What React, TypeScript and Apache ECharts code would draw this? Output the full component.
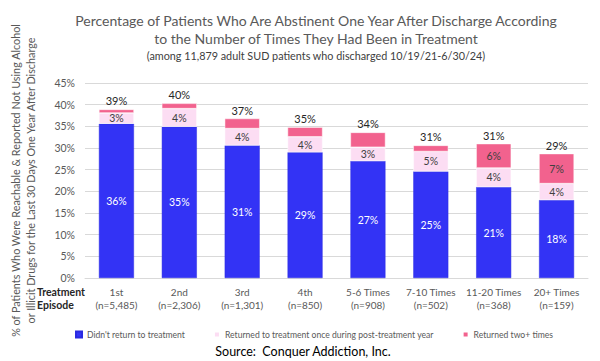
import React, { useEffect, useRef } from "react";
import * as echarts from "echarts";

const categories = ["1st", "2nd", "3rd", "4th", "5-6 Times", "7-10 Times", "11-20 Times", "20+ Times"];
const sampleSizes = ["n=5,485", "n=2,306", "n=1,301", "n=850", "n=908", "n=502", "n=368", "n=159"];
const didntReturn = [35.6, 34.9, 30.6, 29.0, 27.0, 24.6, 21.0, 18.0];
const returnedOnce = [2.5, 4.2, 3.9, 3.6, 3.2, 4.6, 4.4, 3.8];
const returnedTwoPlus = [0.8, 1.2, 2.3, 2.2, 3.4, 1.4, 5.6, 6.9];
const yTicks = [0, 5, 10, 15, 20, 25, 30, 35, 40, 45];

const seriesNames = [
  "Didn't return to treatment",
  "Returned to treatment once during post-treatment year",
  "Returned two+ times",
];

const FONT = "Lato";

export default function App() {
  const ref = useRef<HTMLDivElement>(null);
  useEffect(() => {
    document.body.style.margin = "0";
    if (!ref.current) return;
    const chart = echarts.init(ref.current, undefined, { renderer: "svg" });
    const totals = didntReturn.map((v, i) => v + returnedOnce[i] + returnedTwoPlus[i]);
    const barW = 35;
    chart.setOption({
      animation: false,
      textStyle: { fontFamily: FONT },
      title: {
        text: "Percentage of Patients Who Are Abstinent One Year After Discharge According\nto the Number of Times They Had Been in Treatment",
        subtext: "(among 11,879 adult SUD patients who discharged 10/19/21-6/30/24)",
        left: 311,
        textAlign: "center",
        top: 6,
        itemGap: 3,
        textStyle: { fontFamily: FONT, fontSize: 14, fontWeight: "normal", color: "#595959", lineHeight: 18 },
        subtextStyle: { fontFamily: FONT, fontSize: 10.8, color: "#404040" },
      },
      legend: {
        data: seriesNames,
        top: 325,
        left: 70,
        icon: "rect",
        itemWidth: 6,
        itemHeight: 6,
        itemGap: 28,
        textStyle: { fontFamily: FONT, fontSize: 8.6, color: "#595959" },
      },
      grid: { left: 67, right: 12, top: 83, bottom: 83 },
      xAxis: {
        type: "category",
        data: categories,
        axisLine: { lineStyle: { color: "#D9D9D9" } },
        axisTick: { show: false },
        axisLabel: {
          interval: 0,
          margin: 7,
          fontSize: 10,
          lineHeight: 13,
          color: "#595959",
          fontFamily: FONT,
          formatter: (v: string, i: number) => `${v}\n(${sampleSizes[i]})`,
        },
      },
      yAxis: {
        type: "value",
        min: yTicks[0],
        max: yTicks[yTicks.length - 1],
        interval: 5,
        name: "% of Patients Who Were Reachable & Reported Not Using Alcohol\nor Illicit Drugs for the Last 30 Days One Year After Discharge",
        nameLocation: "middle",
        nameGap: 47,
        nameTextStyle: { fontFamily: FONT, fontSize: 10.8, color: "#595959", lineHeight: 15 },
        axisLine: { show: false },
        axisTick: { show: false },
        splitLine: { lineStyle: { color: "#D9D9D9" } },
        axisLabel: { margin: 10, fontSize: 10.5, color: "#595959", fontFamily: FONT, formatter: "{value}%" },
      },
      series: [
        {
          name: seriesNames[0],
          type: "bar",
          stack: "s",
          barWidth: barW,
          data: didntReturn,
          itemStyle: { color: "#3333F5", borderColor: "#2A2AE0", borderWidth: 0.5 },
          label: {
            show: true,
            position: "inside",
            color: "#FFFFFF",
            fontSize: 10.5,
            fontFamily: FONT,
            formatter: (p: any) => `${Math.round(p.value)}%`,
          },
        },
        {
          name: seriesNames[1],
          type: "bar",
          stack: "s",
          barWidth: barW,
          data: returnedOnce,
          itemStyle: { color: "#FCDDF3", borderColor: "#FFFFFF", borderWidth: 0.5 },
          label: {
            show: true,
            position: "inside",
            color: "#404040",
            fontSize: 10.5,
            fontFamily: FONT,
            formatter: (p: any) => `${Math.round(p.value)}%`,
          },
        },
        {
          name: seriesNames[2],
          type: "bar",
          stack: "s",
          barWidth: barW,
          data: returnedTwoPlus,
          itemStyle: { color: "#F2628E", borderColor: "#FFFFFF", borderWidth: 0.5 },
          label: {
            show: true,
            position: "inside",
            color: "#404040",
            fontSize: 10.5,
            fontFamily: FONT,
            formatter: (p: any) => (p.value >= 5 ? `${Math.round(p.value)}%` : ""),
          },
        },
        {
          name: "Total",
          type: "bar",
          stack: "s",
          barWidth: barW,
          data: totals.map(() => 0),
          itemStyle: { color: "transparent" },
          label: {
            show: true,
            position: "top",
            distance: 3,
            color: "#262626",
            fontSize: 11,
            fontFamily: FONT,
            formatter: (p: any) => `${Math.round(totals[p.dataIndex])}%`,
          },
        },
      ],
      graphic: [
        {
          type: "text",
          left: 37,
          top: 285,
          style: {
            text: "Treatment\nEpisode",
            fontFamily: FONT,
            fontSize: 10.5,
            fontWeight: "bold",
            lineHeight: 13,
            fill: "#262626",
          },
        },
        {
          type: "text",
          x: 303,
          y: 351,
          style: {
            text: "Source:  Conquer Addiction, Inc.",
            fontFamily: FONT,
            fontSize: 12.5,
            fill: "#000000",
            align: "center",
            verticalAlign: "middle",
          },
        },
      ],
    });
    return () => chart.dispose();
  }, []);
  return <div ref={ref} style={{ width: 600, height: 361 }} />;
}
